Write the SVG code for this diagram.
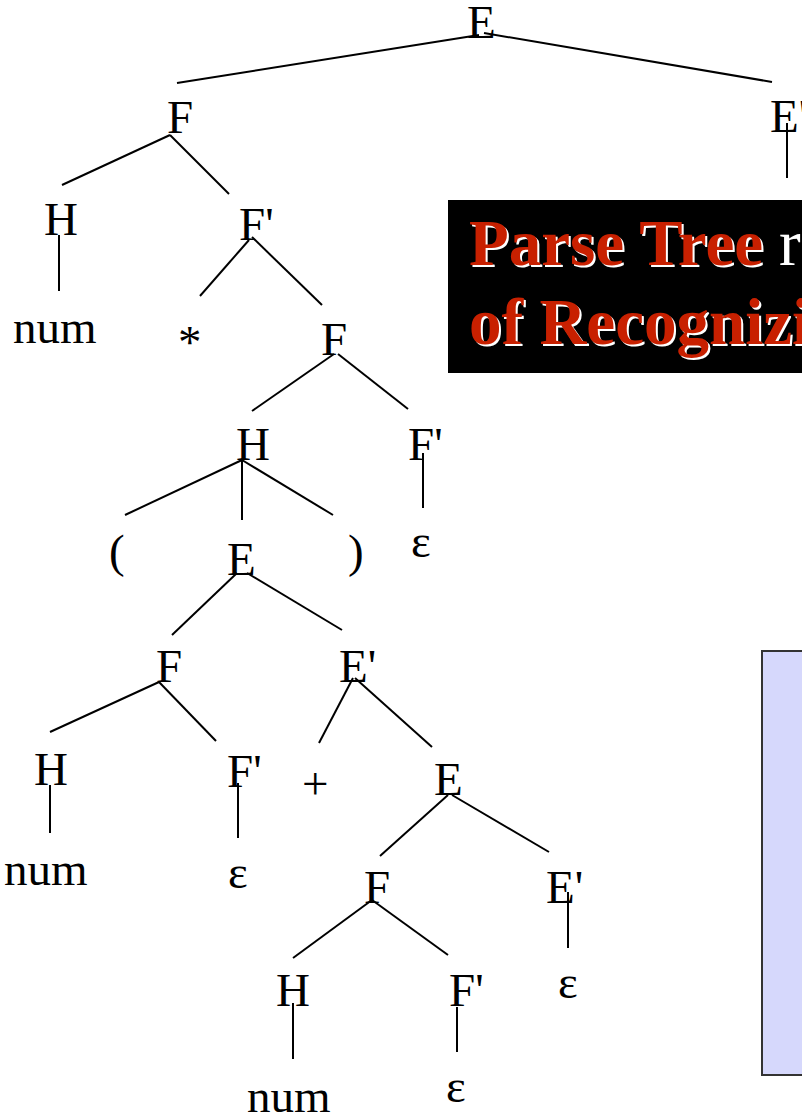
<svg xmlns="http://www.w3.org/2000/svg" width="802" height="1114" viewBox="0 0 802 1114">
<style>
.t{font-family:"Liberation Serif","Times New Roman",serif;font-size:47px;fill:#000}
.c line{stroke:#000;stroke-width:2;stroke-linecap:butt}
.ti{font-family:"Liberation Serif","Times New Roman",serif;font-size:65px;font-weight:bold}
.tn{font-family:"Liberation Serif","Times New Roman",serif;font-size:65px;font-weight:normal}
</style>
<rect width="802" height="1114" fill="#fff"/>
<g id="title">
<rect x="448" y="200" width="360" height="173" fill="#000"/>
<text class="ti" x="471" y="267" fill="#fff">Parse Tree</text>
<text class="ti" x="469" y="265" fill="#c82000">Parse Tree</text>
<text class="tn" x="779" y="265" fill="#fff">r</text>
<text class="ti" x="471" y="346" fill="#fff">of Recognizi</text>
<text class="ti" x="469" y="344" fill="#c82000">of Recognizi</text>
</g>
<g id="note">
<rect x="762" y="651" width="60" height="424" fill="#d6d8fc" stroke="#333" stroke-width="2"/>
</g>
<g id="connectors" class="c">
<line x1="479" y1="35" x2="177" y2="83"/>
<line x1="484" y1="33" x2="772" y2="82"/>
<line x1="787" y1="123" x2="787" y2="178"/>
<line x1="170" y1="135" x2="62" y2="185"/>
<line x1="170" y1="135" x2="229" y2="194"/>
<line x1="59" y1="235" x2="59" y2="291"/>
<line x1="249" y1="240" x2="200" y2="296"/>
<line x1="252" y1="237" x2="322" y2="305"/>
<line x1="334" y1="354" x2="252" y2="411"/>
<line x1="338" y1="354" x2="408" y2="409"/>
<line x1="242" y1="460" x2="125" y2="515"/>
<line x1="242" y1="460" x2="242" y2="520"/>
<line x1="242" y1="460" x2="333" y2="515"/>
<line x1="423" y1="453" x2="423" y2="508"/>
<line x1="237" y1="573" x2="172" y2="635"/>
<line x1="247" y1="573" x2="342" y2="630"/>
<line x1="159" y1="682" x2="50" y2="732"/>
<line x1="159" y1="682" x2="216" y2="741"/>
<line x1="353" y1="678" x2="319" y2="743"/>
<line x1="355" y1="678" x2="432" y2="747"/>
<line x1="50" y1="785" x2="50" y2="833"/>
<line x1="238" y1="783" x2="238" y2="838"/>
<line x1="448" y1="795" x2="380" y2="856"/>
<line x1="452" y1="795" x2="549" y2="852"/>
<line x1="372" y1="900" x2="293" y2="958"/>
<line x1="372" y1="900" x2="448" y2="955"/>
<line x1="568" y1="892" x2="568" y2="948"/>
<line x1="293" y1="1003" x2="293" y2="1059"/>
<line x1="457" y1="1007" x2="457" y2="1052"/>
</g>
<g id="n1"><text class="t" x="467" y="38">E</text></g>
<g id="n2"><text class="t" x="167" y="133">F</text></g>
<g id="n3"><text class="t" x="770" y="132">E'</text></g>
<g id="n4"><text class="t" x="44" y="235">H</text></g>
<g id="n5"><text class="t" x="239" y="240">F'</text></g>
<g id="n6"><text class="t" x="13" y="343">num</text></g>
<g id="n7"><text class="t" x="178" y="358">*</text></g>
<g id="n8"><text class="t" x="321" y="355">F</text></g>
<g id="n9"><text class="t" x="236" y="460">H</text></g>
<g id="n10"><text class="t" x="408" y="460">F'</text></g>
<g id="n11"><text class="t" x="109" y="567">(</text></g>
<g id="n12"><text class="t" x="227" y="575">E</text></g>
<g id="n13"><text class="t" x="348" y="567">)</text></g>
<g id="n14"><text class="t" x="411" y="557">ε</text></g>
<g id="n15"><text class="t" x="156" y="682">F</text></g>
<g id="n16"><text class="t" x="339" y="682">E'</text></g>
<g id="n17"><text class="t" x="34" y="785">H</text></g>
<g id="n18"><text class="t" x="227" y="787">F'</text></g>
<g id="n19"><text class="t" x="302" y="799">+</text></g>
<g id="n20"><text class="t" x="434" y="795">E</text></g>
<g id="n21"><text class="t" x="4" y="885">num</text></g>
<g id="n22"><text class="t" x="228" y="888">ε</text></g>
<g id="n23"><text class="t" x="364" y="903">F</text></g>
<g id="n24"><text class="t" x="546" y="903">E'</text></g>
<g id="n25"><text class="t" x="276" y="1006">H</text></g>
<g id="n26"><text class="t" x="449" y="1006">F'</text></g>
<g id="n27"><text class="t" x="558" y="998">ε</text></g>
<g id="n28"><text class="t" x="247" y="1112">num</text></g>
<g id="n29"><text class="t" x="446" y="1102">ε</text></g>
</svg>
